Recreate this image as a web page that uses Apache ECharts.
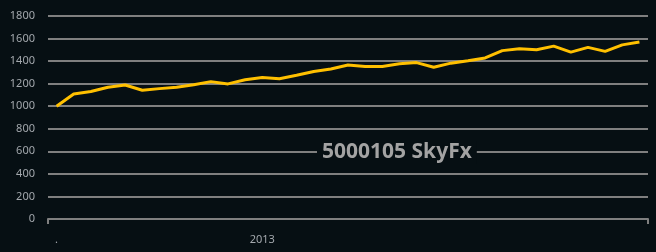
<!DOCTYPE html>
<html>
<head>
<meta charset="utf-8">
<script src="https://cdn.jsdelivr.net/npm/echarts@6/dist/echarts.min.js"></script>
<style>
html,body{margin:0;padding:0;background:#060f13;}
#c{width:656px;height:252px;}
</style>
</head>
<body>
<div id="c"></div>
<script>
const categories = ['W1','W2','W3','W4','W5','W6','W7','W8','W9','W10','W11','W12','W13','W14','W15','W16','W17','W18','W19','W20','W21','W22','W23','W24','W25','W26','W27','W28','W29','W30','W31','W32','W33','W34','W35'];
const equity = [1000,1108,1130,1168,1188,1142,1156,1168,1190,1218,1198,1234,1254,1243,1274,1308,1330,1366,1352,1352,1376,1387,1346,1382,1404,1428,1493,1510,1500,1533,1480,1522,1486,1544,1570];
const xTickLabels = {0: '.', 12: '2013'};
const yTicks = [0,200,400,600,800,1000,1200,1400,1600,1800];
const chartTitle = '5000105 SkyFx';

const chart = echarts.init(document.getElementById('c'), null, {renderer: 'canvas'});
chart.setOption({
  backgroundColor: '#060f13',
  animation: false,
  title: {
    text: chartTitle,
    left: 317,
    top: 141,
    padding: [1, 5],
    backgroundColor: '#060f13',
    textStyle: {
      color: '#a3a3a3',
      fontSize: 21,
      fontWeight: 'bold',
      fontFamily: 'Noto Sans'
    }
  },
  grid: {left: 48, right: 8, top: 16, bottom: 33, containLabel: false},
  xAxis: {
    type: 'category',
    data: categories,
    boundaryGap: true,
    axisLine: {show: true, lineStyle: {color: '#7f7f7f', width: 2}},
    axisTick: {show: true, length: 5, interval: function (i) { return i === 0; }, lineStyle: {color: '#7f7f7f', width: 2}},
    axisLabel: {
      interval: function (i) { return xTickLabels[i] !== undefined; },
      formatter: function (v, i) { return xTickLabels[i] !== undefined ? xTickLabels[i] : ''; },
      color: '#a3a8ad',
      fontSize: 11,
      fontFamily: 'Noto Sans',
      margin: 15
    },
    splitLine: {show: false}
  },
  yAxis: {
    type: 'value',
    min: yTicks[0],
    max: yTicks[yTicks.length - 1],
    interval: 200,
    axisLine: {show: false},
    axisTick: {show: false},
    axisLabel: {
      color: '#a3a8ad', fontSize: 11, fontFamily: 'Noto Sans', margin: 13,
      formatter: function (v) { return String(v); }
    },
    splitLine: {show: true, lineStyle: {color: '#7f7f7f', width: 2}}
  },
  series: [{
    type: 'line',
    data: equity,
    showSymbol: false,
    symbol: 'none',
    lineStyle: {color: '#ffc000', width: 3},
    z: 3
  }]
});
</script>
</body>
</html>
